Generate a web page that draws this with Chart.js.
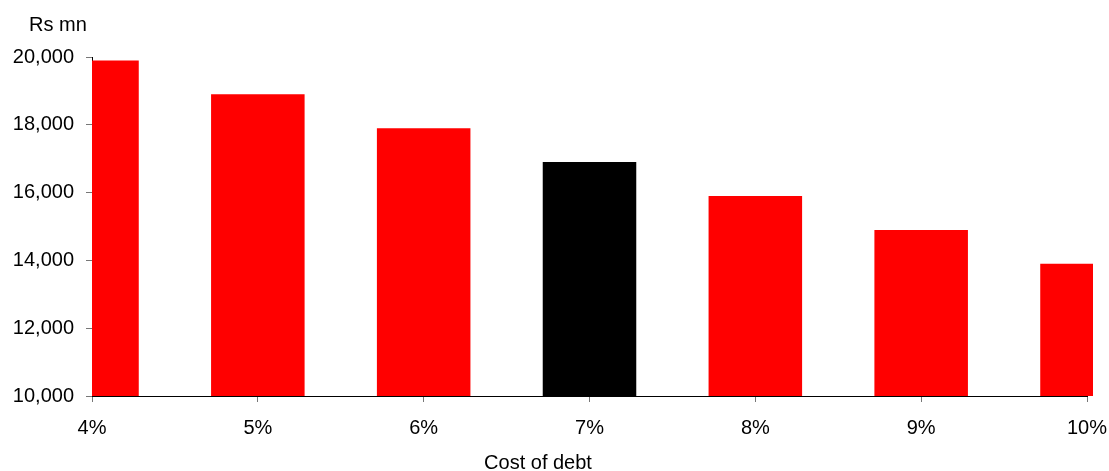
<!DOCTYPE html>
<html>
<head>
<meta charset="utf-8">
<script src="https://cdn.jsdelivr.net/npm/chart.js@4"></script>
<style>
  body { margin: 0; background: #fff; }
  canvas { display: block; }
</style>
</head>
<body>
<canvas id="debtChart" width="1109" height="471"></canvas>
<script>
// cost of debt scenarios vs value (Rs mn)
const costOfDebt = ["4%", "5%", "6%", "7%", "8%", "9%", "10%"];
const valueRsMn = [19900, 18900, 17900, 16900, 15900, 14900, 13900];
const yTicks = [10000, 12000, 14000, 16000, 18000, 20000];
const baseCase = "7%";

const FONT = "'Liberation Sans', Arial, sans-serif";

// axis titles sit in odd places, so draw them by hand
const axisTitles = {
  id: "axisTitles",
  afterDraw(chart) {
    const c = chart.ctx;
    c.save();
    c.fillStyle = "#000";
    c.font = "20px " + FONT;
    c.textAlign = "center";
    c.textBaseline = "middle";
    c.fillText("Rs mn", 58, 25);
    c.fillText("Cost of debt", 538, 463);
    c.restore();
  }
};

document.addEventListener("DOMContentLoaded", () => {
  const ctx = document.getElementById("debtChart").getContext("2d");

  new Chart(ctx, {
    type: "bar",
    data: {
      labels: costOfDebt,
      datasets: [
        {
          data: valueRsMn,
          backgroundColor: costOfDebt.map(c => (c === baseCase ? "#000000" : "#ff0000")),
          borderWidth: 0,
          barPercentage: 1,
          categoryPercentage: 0.564,
          clip: { left: 0, top: 0, right: 6, bottom: 0 }
        }
      ]
    },
    plugins: [axisTitles],
    options: {
      responsive: false,
      animation: false,
      layout: {
        padding: { top: 57, right: 22, left: 0, bottom: 0 }
      },
      plugins: {
        legend: { display: false },
        tooltip: { enabled: false }
      },
      scales: {
        x: {
          type: "category",
          offset: false,
          grid: {
            display: true,
            offset: false,
            drawOnChartArea: false,
            drawTicks: true,
            tickLength: 6,
            color: "#777"
          },
          border: { display: true, color: "#000", width: 1 },
          ticks: {
            color: "#000",
            font: { family: FONT, size: 20 },
            padding: 14,
            maxRotation: 0,
            autoSkip: false
          },
          afterFit: s => {
            s.height = 75;
            s.paddingLeft = 0;
            s.paddingRight = 0;
          }
        },
        y: {
          min: 10000,
          max: 20000,
          afterBuildTicks: s => { s.ticks = yTicks.map(v => ({ value: v })); },
          grid: {
            display: true,
            drawOnChartArea: false,
            drawTicks: true,
            tickLength: 6,
            color: "#777"
          },
          border: { display: true, color: "#000", width: 1 },
          ticks: {
            color: "#000",
            font: { family: FONT, size: 20 },
            padding: 12,
            callback: v => v.toLocaleString("en-US")
          },
          afterFit: s => {
            s.width = 92;
            s.paddingTop = 0;
            s.paddingBottom = 0;
          }
        }
      }
    }
  });
});
</script>
</body>
</html>
